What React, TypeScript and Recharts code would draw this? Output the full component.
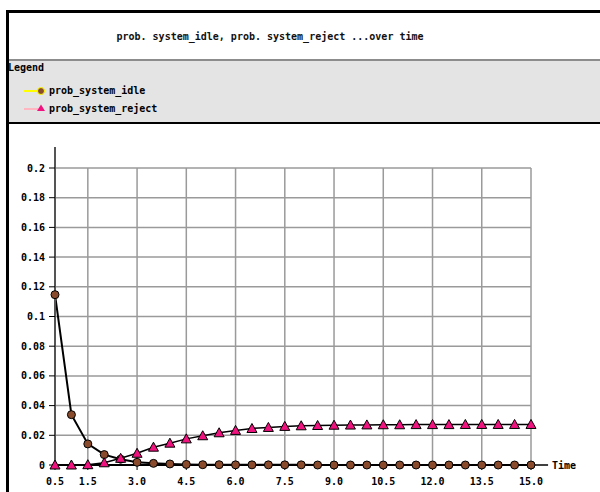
import React from 'react';
import { LineChart, Line, XAxis, YAxis, CartesianGrid, ReferenceLine } from 'recharts';

const times = [0.5, 1.0, 1.5, 2.0, 2.5, 3.0, 3.5, 4.0, 4.5, 5.0, 5.5, 6.0, 6.5, 7.0, 7.5, 8.0, 8.5, 9.0, 9.5, 10.0, 10.5, 11.0, 11.5, 12.0, 12.5, 13.0, 13.5, 14.0, 14.5, 15.0];
const probSystemIdle = [0.1147, 0.0339, 0.0142, 0.0070, 0.0039, 0.0018, 0.0011, 0.0007, 0.0004, 0.0002, 0.0002, 0.0001, 0.0001, 0.0001, 0.0001, 0.0001, 0, 0, 0, 0, 0, 0, 0, 0, 0, 0, 0, 0, 0, 0];
const probSystemReject = [0, 0, 0.0002, 0.0015, 0.0045, 0.0079, 0.0120, 0.0147, 0.0176, 0.0197, 0.0217, 0.0233, 0.0246, 0.0253, 0.0260, 0.0264, 0.0266, 0.0268, 0.0269, 0.0270, 0.0271, 0.0271, 0.0272, 0.0272, 0.0272, 0.0273, 0.0273, 0.0273, 0.0273, 0.0273];
const xTicks = [0.5, 1.5, 3.0, 4.5, 6.0, 7.5, 9.0, 10.5, 12.0, 13.5, 15.0];
const yTicks = [0, 0.02, 0.04, 0.06, 0.08, 0.1, 0.12, 0.14, 0.16, 0.18, 0.2];
const seriesNames = ['prob_system_idle', 'prob_system_reject'];
const titleText = 'prob. system_idle, prob. system_reject ...over time';
const legendTitle = 'Legend';
const xAxisName = 'Time';

const data = times.map((t, i) => ({ t, idle: probSystemIdle[i], reject: probSystemReject[i] }));

const FONT = '"DejaVu Sans Mono", monospace';
const BROWN = '#8a4b2c';
const MAGENTA = '#f0127f';

const Triangle = (props: any) => {
  const { cx, cy, index } = props;
  if (cx == null || cy == null) return <g key={`t${index}`} />;
  return (
    <polygon
      key={`t${index}`}
      points={`${cx},${cy - 5} ${cx - 5},${cy + 4} ${cx + 5},${cy + 4}`}
      fill={MAGENTA}
      stroke="#000"
      strokeWidth={1}
    />
  );
};

const Circle = (props: any) => {
  const { cx, cy, index } = props;
  if (cx == null || cy == null) return <g key={`c${index}`} />;
  return <circle key={`c${index}`} cx={cx} cy={cy} r={4} fill={BROWN} stroke="#000" strokeWidth={1} />;
};

const tickStyle = { fill: '#000', fontFamily: FONT, fontWeight: 'bold' as const, fontSize: 10 };

export default function App() {
  return (
    <div style={{ position: 'absolute', left: 0, top: 0, width: 600, height: 492, background: '#fff', overflow: 'hidden', fontFamily: FONT }}>
      {/* frame borders */}
      <div style={{ position: 'absolute', left: 6, top: 10, width: 600, height: 3, background: '#000' }} />
      <div style={{ position: 'absolute', left: 6, top: 10, width: 3, height: 490, background: '#000' }} />
      {/* title */}
      <div style={{ position: 'absolute', left: 9, top: 13, width: 522, height: 47, display: 'flex', alignItems: 'center', justifyContent: 'center', fontSize: 10, fontWeight: 'bold', color: '#111', whiteSpace: 'pre' }}>
        {titleText}
      </div>
      {/* legend */}
      <div style={{ position: 'absolute', left: 9, top: 59, width: 600, height: 2, background: '#8c8c8c' }} />
      <div style={{ position: 'absolute', left: 9, top: 61, width: 600, height: 61, background: '#e4e4e4' }}>
        <div style={{ position: 'absolute', left: -1, top: 1, fontSize: 10, fontWeight: 'bold', color: '#000' }}>{legendTitle}</div>
        <svg style={{ position: 'absolute', left: 0, top: 0 }} width={60} height={61}>
          <line x1={15} y1={30} x2={32} y2={30} stroke="#ffff00" strokeWidth={2} />
          <circle cx={32} cy={30} r={3.5} fill={BROWN} stroke="#ffff00" strokeWidth={1} />
          <line x1={15} y1={48} x2={32} y2={48} stroke="#ffb6c1" strokeWidth={2} />
          <polygon points="32,43.5 28,50 36,50" fill={MAGENTA} />
        </svg>
        <div style={{ position: 'absolute', left: 40, top: 23, fontSize: 10, fontWeight: 'bold', color: '#000', lineHeight: '14px' }}>{seriesNames[0]}</div>
        <div style={{ position: 'absolute', left: 40, top: 41, fontSize: 10, fontWeight: 'bold', color: '#000', lineHeight: '14px' }}>{seriesNames[1]}</div>
      </div>
      <div style={{ position: 'absolute', left: 9, top: 122, width: 600, height: 2, background: '#000' }} />
      {/* chart */}
      <div style={{ position: 'absolute', left: 0, top: 0 }}>
        <LineChart width={600} height={492} data={data} margin={{ top: 168, right: 69, bottom: 0, left: 0 }}>
          <CartesianGrid stroke="#9a9a9a" strokeWidth={1.5} />
          <XAxis
            dataKey="t"
            type="number"
            domain={[0.5, 15]}
            ticks={xTicks}
            tickFormatter={(v: number) => v.toFixed(1)}
            tick={tickStyle}
            tickSize={5}
            tickMargin={8}
            height={27}
            interval={0}
            axisLine={{ stroke: '#000', strokeWidth: 2 }}
            tickLine={{ stroke: '#000' }}
          />
          <YAxis
            type="number"
            domain={[0, 0.2]}
            ticks={yTicks}
            tick={tickStyle}
            width={55}
            tickSize={6}
            tickMargin={4}
            interval={0}
            axisLine={{ stroke: '#555', strokeWidth: 2 }}
            tickLine={{ stroke: '#000' }}
          />
          <ReferenceLine
            segment={[{ x: 0.5, y: 0.2 }, { x: 0.5, y: 0.2141 }]}
            ifOverflow="visible"
            stroke="#555"
            strokeWidth={2}
          />
          <ReferenceLine
            segment={[{ x: 15, y: 0 }, { x: 15.52, y: 0 }]}
            ifOverflow="visible"
            stroke="#000"
            strokeWidth={1.5}
            label={{ value: xAxisName, position: 'right', offset: 4, fill: '#000', fontFamily: FONT, fontWeight: 'bold', fontSize: 10 }}
          />
          <Line dataKey="idle" stroke="#000" strokeWidth={2} dot={Circle} isAnimationActive={false} />
          <Line dataKey="reject" stroke="#000" strokeWidth={1.5} dot={Triangle} isAnimationActive={false} />
        </LineChart>
      </div>
    </div>
  );
}
